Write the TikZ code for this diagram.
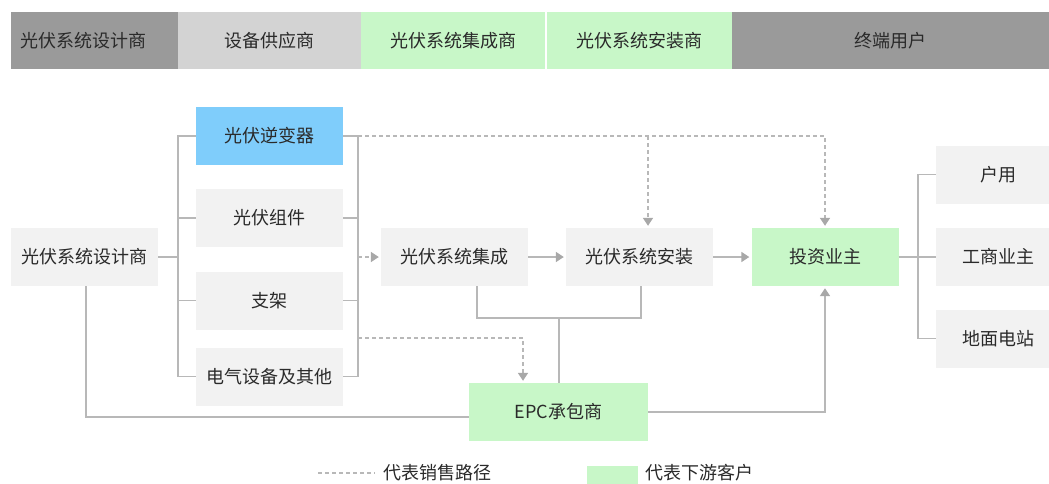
\documentclass[tikz,border=0pt]{standalone}
\usepackage{fontspec}
\setmainfont{Noto Sans CJK SC}
\usetikzlibrary{arrows.meta}
\definecolor{hdark}{HTML}{9A9A9A}
\definecolor{hlight}{HTML}{D3D3D3}
\definecolor{hgreen}{HTML}{C8F7C8}
\definecolor{boxgray}{HTML}{F2F2F2}
\definecolor{boxblue}{HTML}{7FCDFB}
\definecolor{boxgreen}{HTML}{C8F7C8}
\definecolor{linec}{HTML}{B8B8B8}
\definecolor{tipc}{HTML}{A8A8A8}
\definecolor{txt}{HTML}{2A2A2A}
\tikzset{
  fs/.style={font=\fontsize{18pt}{20pt}\selectfont, text=txt},
  hdr/.style={fs, minimum height=57pt, inner sep=0pt},
  box/.style={fs, fill=boxgray, minimum width=147pt, minimum height=58pt, inner sep=0pt},
  conn/.style={draw=linec, line width=1.6pt},
  salesline/.style={draw=linec, line width=1.6pt, dash pattern=on 4pt off 3pt},
  arr/.style={-{Triangle[width=10pt,length=8pt,fill=tipc,color=tipc]}, shorten >=2pt},
  legtxt/.style={fs, inner sep=0pt, anchor=west}
}
\begin{document}
\begin{tikzpicture}[x=1pt,y=-1pt]
\clip (0,0) rectangle (1049,483);
\fill[white] (0,0) rectangle (1049,483);
% header
\node[hdr, fill=hdark, minimum width=167pt, text width=149pt, inner xsep=9pt, align=left] (h1) at (94.5,40.5) {光伏系统设计商};
\node[hdr, fill=hlight, minimum width=183pt] (h2) at (269.5,40.5) {设备供应商};
\node[hdr, fill=hgreen, minimum width=184pt] (h3) at (453,40.5) {光伏系统集成商};
\node[hdr, fill=hgreen, minimum width=185pt] (h4) at (639.5,40.5) {光伏系统安装商};
\node[hdr, fill=hdark, minimum width=330pt] (h5) at (897,40.5) {};
\node[fs, inner sep=0pt] (h5t) at (890,40.5) {终端用户};
% nodes
\node[box] (design) at (84.5,257) {光伏系统设计商};
\node[box, fill=boxblue] (inv) at (269.5,136) {光伏逆变器};
\node[box] (mod) at (269.5,218) {光伏组件};
\node[box] (brk) at (269.5,300.5) {支架};
\node[box] (elec) at (269.5,376.5) {电气设备及其他};
\node[box] (integ) at (454.5,257) {光伏系统集成};
\node[box] (inst) at (639.5,257) {光伏系统安装};
\node[box, fill=boxgreen] (invest) at (825,257) {投资业主};
\node[box, minimum width=124pt] (hu) at (998,174.5) {户用};
\node[box, minimum width=124pt] (gs) at (998,257) {工商业主};
\node[box, minimum width=124pt] (dm) at (998,338.5) {地面电站};
\node[box, fill=boxgreen, minimum width=179pt, minimum height=58pt] (epc) at (558.5,412) {EPC承包商};
% coordinates
\coordinate (bl) at (178,257);
\coordinate (br) at (358,257);
\coordinate (bd) at (358,338);
\coordinate (j) at (559,318);
\coordinate (rb) at (918,257);
% left bracket
\draw[conn] (design.east) -- (bl);
\draw[conn] (inv.west) -- (inv.west -| bl) -- (elec.west -| bl) -- (elec.west);
\draw[conn] (mod.west) -- (mod.west -| bl);
\draw[conn] (brk.west) -- (brk.west -| bl);
% right bracket
\draw[conn] (inv.east) -- (inv.east -| br) -- (elec.east -| br) -- (elec.east);
\draw[conn] (mod.east) -- (mod.east -| br);
\draw[conn] (brk.east) -- (brk.east -| br);
% sales paths
\draw[salesline, arr] (inv.east -| br) -| (invest.north);
\draw[salesline, arr] ([xshift=8.5pt]inst.north |- inv.east) -- ([xshift=8.5pt]inst.north);
\draw[salesline, arr] (br) -- (integ.west);
\draw[salesline, arr] (bd) -| ([xshift=-35.5pt]epc.north);
% solid flows
\draw[conn, arr] (integ.east) -- (inst.west);
\draw[conn, arr] (inst.east) -- (invest.west);
\draw[conn] ([xshift=22.5pt]integ.south) |- (j) -| ([xshift=1.5pt]inst.south);
\draw[conn] (j) -- (j |- epc.north);
\draw[conn, arr] (epc.east) -| (invest.south);
\draw[conn] ([xshift=1.5pt]design.south) |- ([yshift=-5pt]epc.west);
% end users bracket
\draw[conn] (invest.east) -- (gs.west);
\draw[conn] (hu.west) -- (hu.west -| rb) -- (dm.west -| rb) -- (dm.west);
% legend
\coordinate (l1) at (318,473);
\coordinate (l2) at (375,473);
\draw[salesline] (l1) -- (l2);
\node[legtxt] (lt1) at (383,473) {代表销售路径};
\node[fill=boxgreen, minimum width=51pt, minimum height=24pt, inner sep=0pt] (lg) at (612.5,478) {};
\node[legtxt] (lt2) at (645,473) {代表下游客户};
\end{tikzpicture}
\end{document}
